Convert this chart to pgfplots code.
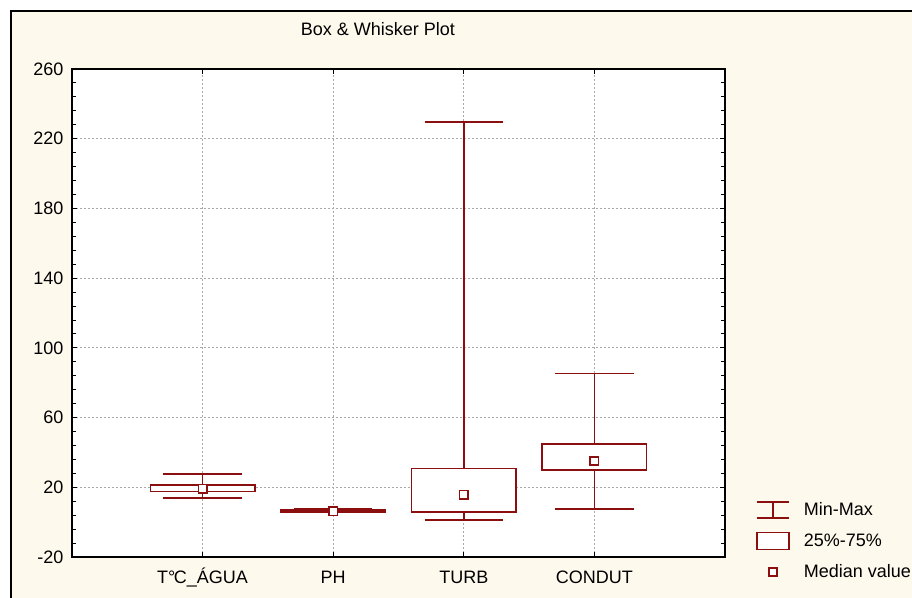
\documentclass[border=0pt]{standalone}
\usepackage{fontspec}
\setmainfont{Liberation Sans}
\usepackage{pgfplots}
\pgfplotsset{compat=1.18}
\definecolor{boxred}{RGB}{140,15,15}
\definecolor{cream}{RGB}{254,249,237}
\definecolor{gridgray}{RGB}{170,170,170}
\pgfplotsset{
  wsk/.style={forget plot, boxred, line width=1.7bp, mark=none},
  bx/.style={forget plot, boxred, line width=1.7bp, fill=white, mark=none},
}
\begin{document}
\begin{tikzpicture}[font=\fontsize{18bp}{22bp}\selectfont]
\fill[white] (0,0) rectangle (912bp,598bp);
\fill[cream] (11bp,0) rectangle (912bp,587bp);
\draw[black, line width=2.2bp] (11bp,0) -- (11bp,587bp) -- (912bp,587bp);
\begin{axis}[
  at={(72bp,41bp)}, anchor=south west,
  scale only axis, width=653bp, height=488bp,
  xmin=0, xmax=5, ymin=-20, ymax=260,
  xtick={1,2,3,4},
  xticklabels={T°\kern-1.5bp C\_ÁGUA, PH, TURB, CONDUT},
  ytick={-20,20,...,260},
  minor y tick num=4,
  tick align=inside,
  major tick length=5bp, minor tick length=4bp,
  tick style={black, line width=0.9bp},
  axis line style={black, line width=1.6bp},
  axis background/.style={fill=white},
  grid=major,
  major grid style={gridgray, line width=0.8bp, dash pattern=on 2bp off 2bp},
  /pgf/number format/assume math mode=true,
  yticklabel style={xshift=-5bp},
  xticklabel style={text height=13bp, text depth=4bp, yshift=-9.5bp},
  title={Box \& Whisker Plot},
  title style={at={(axis description cs:0.4686,1.0697)}, anchor=center, inner sep=0pt},
  legend style={at={(axis description cs:1.0475,0.1148)}, anchor=north west, draw=none, fill=none, inner sep=0pt, row sep=12.5bp, column sep=13bp, nodes={inner sep=1bp}},
  legend cell align=left,
]
% T C AGUA: min 14, q1 17.5, med 19.2, q3 21.5, max 27.6
\addplot[wsk] coordinates {(1,21.5) (1,27.6)};
\addplot[wsk] coordinates {(1,14) (1,17.5)};
\addplot[wsk] coordinates {(0.7,27.6) (1.3,27.6)};
\addplot[wsk] coordinates {(0.7,14) (1.3,14)};
\addplot[bx] coordinates {(0.6,17.5) (1.4,17.5) (1.4,21.5) (0.6,21.5)} -- cycle;
% PH: min 5.6, q1 6.0, med 6.2, q3 7.0, max 7.5
\addplot[bx] coordinates {(1.6,6.0) (2.4,6.0) (2.4,7.0) (1.6,7.0)} -- cycle;
\addplot[wsk] coordinates {(2,7.0) (2,7.5)};
\addplot[wsk] coordinates {(2,5.6) (2,6.0)};
\addplot[wsk] coordinates {(1.7,7.5) (2.3,7.5)};
\addplot[wsk] coordinates {(1.7,5.6) (2.3,5.6)};
% TURB: min 1.4, q1 5.8, med 15.7, q3 30.7, max 229.6
\addplot[wsk] coordinates {(3,30.7) (3,229.6)};
\addplot[wsk] coordinates {(3,1.4) (3,5.8)};
\addplot[wsk] coordinates {(2.7,229.6) (3.3,229.6)};
\addplot[wsk] coordinates {(2.7,1.4) (3.3,1.4)};
\addplot[bx] coordinates {(2.6,5.8) (3.4,5.8) (3.4,30.7) (2.6,30.7)} -- cycle;
% CONDUT: min 7.5, q1 29.9, med 35.1, q3 44.7, max 85.2
\addplot[wsk] coordinates {(4,44.7) (4,85.2)};
\addplot[wsk] coordinates {(4,7.5) (4,29.9)};
\addplot[wsk] coordinates {(3.7,85.2) (4.3,85.2)};
\addplot[wsk] coordinates {(3.7,7.5) (4.3,7.5)};
\addplot[bx] coordinates {(3.6,29.9) (4.4,29.9) (4.4,44.7) (3.6,44.7)} -- cycle;
% medians
\addplot[forget plot, only marks, mark=square*, mark size=4.2bp, mark options={fill=white, draw=boxred, line width=1.5bp}] coordinates {(1,19.2) (2,6.2) (3,15.7) (4,35.1)};
\addlegendimage{legend image code/.code={\path[draw=none, fill=none] (0bp,-9bp) rectangle (32bp,9bp); \draw[boxred, line width=1.7bp] (0bp,8bp) -- (32bp,8bp) (0bp,-8bp) -- (32bp,-8bp) (16bp,-8bp) -- (16bp,8bp);}}
\addlegendentry{Min-Max}
\addlegendimage{legend image code/.code={\path[draw=none, fill=none] (0bp,-9bp) rectangle (32bp,9bp); \draw[boxred, line width=1.7bp, fill=white] (0bp,-8.5bp) rectangle (32bp,8.5bp);}}
\addlegendentry{25\%-75\%}
\addlegendimage{legend image code/.code={\path[draw=none, fill=none] (0bp,-9bp) rectangle (32bp,9bp); \draw[boxred, line width=1.5bp, fill=white] (12bp,-4bp) rectangle (20bp,4bp);}}
\addlegendentry{Median value}
\end{axis}
\pgfresetboundingbox
\useasboundingbox (0,0) rectangle (912bp,598bp);
\end{tikzpicture}
\end{document}
